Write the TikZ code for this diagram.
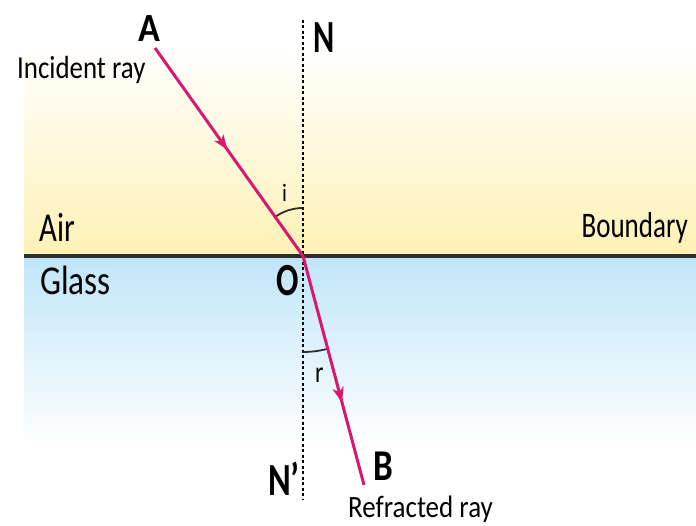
\documentclass[tikz,border=0pt]{standalone}
\usepackage{fontspec}
\usepackage{graphicx}
\setmainfont{Carlito}
\usetikzlibrary{arrows.meta,decorations.markings}
\definecolor{raycol}{HTML}{D8176F}
\definecolor{airyel}{HTML}{FDF1B4}
\definecolor{glassblue}{HTML}{BFE5F8}
\definecolor{bndcol}{HTML}{2E2E2E}
\newcommand{\sxtext}[2]{\scalebox{#1}[1]{#2}}
\tikzset{
  ray/.style={draw=raycol, line width=3pt},
  midarrow/.style={postaction={decorate}, decoration={markings,
     mark=at position #1 with {\arrow[raycol]{Stealth[length=15pt,width=11pt,inset=4pt]}}}},
  normal/.style={draw=black, line width=1.5pt, dash pattern=on 3pt off 2.5pt},
  txt/.style={inner sep=0pt, anchor=base west},
  biglab/.style={inner sep=0pt, anchor=base west, font=\fontsize{46}{50}\selectfont\bfseries},
  arcline/.style={draw=bndcol, line width=1.8pt}
}
\begin{document}
\begin{tikzpicture}[x=1pt,y=-1pt]
\useasboundingbox (0,0) rectangle (696,526);
\fill[white] (0,0) rectangle (696,526);
% backgrounds
\fill[white] (24,18) rectangle (696,40);
\shade[top color=white, bottom color=airyel, middle color=airyel!45] (24,40) rectangle (696,255);
\shade[top color=glassblue, bottom color=white] (24,256) rectangle (696,445);
% boundary
\coordinate (bl) at (24,256);
\coordinate (br) at (696,256);
\draw[bndcol, line width=4pt] (bl) -- (br);
% normal
\coordinate (ntop) at (303,20);
\coordinate (nbot) at (303,500);
\draw[normal] (ntop) -- (nbot);
% points
\coordinate (O) at (303,256);
\coordinate (A) at (155,48);
\coordinate (B) at (364,485);
% angle arcs
\draw[arcline] (O) ++(-90:48) arc[start angle=-90, end angle=-125.6, radius=48];
\draw[arcline] (O) ++(90:96) arc[start angle=90, end angle=75.6, radius=96];
% rays
\draw[ray, midarrow=0.49] (A) -- (O);
\draw[ray, midarrow=0.64] (O) -- (B);
% labels
\node[biglab, font=\fontsize{40}{44}\selectfont\bfseries] (lA) at (138,42) {\sxtext{0.9}{A}};
\node[biglab] (lN) at (313,53) {\sxtext{0.7}{N}};
\node[biglab] (lNp) at (268,495) {\sxtext{0.75}{N’}};
\node[biglab, font=\fontsize{44}{48}\selectfont\bfseries] (lB) at (373,480) {\sxtext{0.8}{B}};
\node[biglab] (lO) at (276,296) {\sxtext{0.72}{O}};
\node[txt, font=\fontsize{32}{36}\selectfont] (linc) at (17,79) {\sxtext{0.84}{Incident ray}};
\node[txt, font=\fontsize{31}{35}\selectfont] (lref) at (348,517) {\sxtext{0.87}{Refracted ray}};
\node[txt, font=\fontsize{41}{45}\selectfont] (lair) at (39,242) {\sxtext{0.75}{Air}};
\node[txt, font=\fontsize{41}{45}\selectfont] (lglass) at (40,295) {\sxtext{0.81}{Glass}};
\node[txt, anchor=base east, font=\fontsize{36}{40}\selectfont] (lbnd) at (688,238) {\sxtext{0.75}{Boundary}};
\node[txt, font=\fontsize{25}{28}\selectfont] (li) at (282,202) {\sxtext{0.85}{i}};
\node[txt, font=\fontsize{30}{33}\selectfont] (lr) at (315,382) {\sxtext{0.8}{r}};
\end{tikzpicture}
\end{document}
